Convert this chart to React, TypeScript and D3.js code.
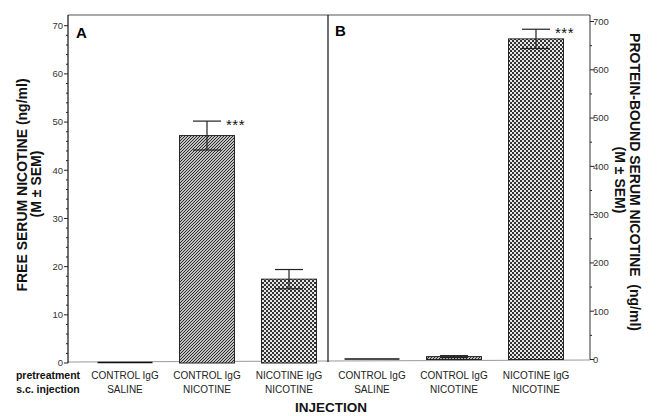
import React from "react";
import * as d3 from "d3";

// groups on the x axis (pretreatment / s.c. injection)
const pretreatment = ["CONTROL IgG", "CONTROL IgG", "NICOTINE IgG"];
const injection = ["SALINE", "NICOTINE", "NICOTINE"];
const groupIds = ["ctl-sal", "ctl-nic", "nic-nic"];
const fills = ["none", "url(#hatch)", "url(#checker)"];

// panel A: free serum nicotine (ng/ml)
const freeMean = [0.2, 47.2, 17.4];
const freeSem = [0, 3.0, 2.0];
// panel B: protein-bound serum nicotine (ng/ml)
const boundMean = [1, 6, 664];
const boundSem = [0, 2, 20];
const stars = [false, true, false];
const starsB = [false, false, true];

const leftTicks = [0, 10, 20, 30, 40, 50, 60, 70];
const rightTicks = [0, 100, 200, 300, 400, 500, 600, 700];

const font = "Liberation Sans, Arial, sans-serif";

export default function App() {
  const yA = d3.scaleLinear().domain([0, 70]).range([363, 25.7]);
  const yB = d3.scaleLinear().domain([0, 700]).range([359.5, 21.5]);
  const xA = d3.scaleBand().domain(groupIds).range([84, 330]).paddingInner(0.33).paddingOuter(0.165);
  const xB = d3.scaleBand().domain(groupIds).range([331, 577]).paddingInner(0.33).paddingOuter(0.165);

  const leftX = 68;
  const rightX = 590;
  const divX = 328;
  const top = 15;

  const panel = (x: d3.ScaleBand<string>, y: d3.ScaleLinear<number, number>, mean: number[], sem: number[], st: boolean[]) =>
    groupIds.map((id, i) => {
      const x0 = x(id)!;
      const w = x.bandwidth();
      const cx = x0 + w / 2;
      const y0 = y(0);
      const yv = y(mean[i]);
      const thin = y0 - yv < 2;
      return (
        <g key={id}>
          {thin ? (
            <line x1={x0} x2={x0 + w} y1={y0 - 0.5} y2={y0 - 0.5} stroke="#111" strokeWidth={1.5} />
          ) : (
            <rect x={x0} y={yv} width={w} height={y0 - yv} fill={fills[i]} stroke="#222" strokeWidth={1} />
          )}
          {sem[i] > 0 && (
            <g stroke="#222" strokeWidth={1.2}>
              <line x1={cx} x2={cx} y1={y(mean[i] - sem[i])} y2={y(mean[i] + sem[i])} />
              <line x1={cx - 14} x2={cx + 14} y1={y(mean[i] + sem[i])} y2={y(mean[i] + sem[i])} />
              <line x1={cx - 14} x2={cx + 14} y1={y(mean[i] - sem[i])} y2={y(mean[i] - sem[i])} />
            </g>
          )}
          {st[i] && (
            <text x={cx + 19} y={y(mean[i] + sem[i]) + 9} fontSize={15} letterSpacing={0.5} fill="#111" fontFamily={font}>
              ***
            </text>
          )}
        </g>
      );
    });

  return (
    <svg width={660} height={416} style={{ position: "absolute", left: 0, top: 0, background: "#fff" }}>
      <defs>
        <pattern id="hatch" patternUnits="userSpaceOnUse" width={3} height={3}>
          <rect width={3} height={3} fill="#fff" />
          <path d="M-1,1 L1,-1 M0,3 L3,0 M2,4 L4,2" stroke="#222" strokeWidth={1.1} />
        </pattern>
        <pattern id="checker" patternUnits="userSpaceOnUse" width={4} height={4}>
          <rect width={4} height={4} fill="#e8e8e8" />
          <rect width={2} height={2} fill="#333" />
          <rect x={2} y={2} width={2} height={2} fill="#333" />
        </pattern>
      </defs>

      {/* frame */}
      <line x1={leftX} x2={rightX} y1={top} y2={top} stroke="#555" strokeWidth={1} />
      <line x1={leftX} x2={rightX} y1={362} y2={360} stroke="#999" strokeWidth={1} />
      <line x1={leftX} x2={leftX} y1={top} y2={yA(0)} stroke="#111" strokeWidth={1.2} />
      <line x1={divX} x2={divX} y1={top} y2={362} stroke="#111" strokeWidth={1.2} />
      <line x1={rightX} x2={rightX} y1={top} y2={yB(0)} stroke="#333" strokeWidth={1} />

      {/* left axis */}
      {d3.range(0, 71, 2).map((v) => (
        <line key={"ml" + v} x1={leftX} x2={leftX - (v % 10 === 0 ? 4 : 2)} y1={yA(v)} y2={yA(v)} stroke="#222" />
      ))}
      {leftTicks.map((v) => (
        <text key={"tl" + v} x={leftX - 5} y={yA(v)} dy="0.35em" textAnchor="end" fontSize={9.5} fill="#333" fontFamily={font}>
          {v}
        </text>
      ))}

      {/* right axis */}
      {d3.range(0, 701, 50).map((v) => (
        <line key={"mr" + v} x1={rightX} x2={rightX + (v % 100 === 0 ? 4 : 2)} y1={yB(v)} y2={yB(v)} stroke="#222" />
      ))}
      {rightTicks.map((v) => (
        <text key={"tr" + v} x={rightX + 3} y={yB(v)} dy="0.35em" textAnchor="start" fontSize={9.5} fill="#333" fontFamily={font}>
          {v}
        </text>
      ))}

      {/* bars */}
      {panel(xA, yA, freeMean, freeSem, stars)}
      {panel(xB, yB, boundMean, boundSem, starsB)}

      {/* panel letters */}
      <text x={76} y={38} fontSize={15} fontWeight="bold" fontFamily={font}>A</text>
      <text x={335} y={36} fontSize={15} fontWeight="bold" fontFamily={font}>B</text>

      {/* category labels */}
      {[xA, xB].map((x, k) =>
        groupIds.map((id, i) => (
          <text key={k + id} x={x(id)! + x.bandwidth() / 2} textAnchor="middle" fontSize={10} fill="#222" fontFamily={font}>
            <tspan x={x(id)! + x.bandwidth() / 2} y={379}>{pretreatment[i]}</tspan>
            <tspan x={x(id)! + x.bandwidth() / 2} y={393}>{injection[i]}</tspan>
          </text>
        ))
      )}
      <text x={48} y={379} textAnchor="middle" fontSize={10.5} fontWeight="bold" fill="#111" fontFamily={font}>pretreatment</text>
      <text x={48} y={393} textAnchor="middle" fontSize={10.5} fontWeight="bold" fill="#111" fontFamily={font}>s.c. injection</text>

      <text x={331} y={412} textAnchor="middle" fontSize={13.5} fontWeight="bold" fill="#111" fontFamily={font}>INJECTION</text>

      {/* axis titles */}
      <text transform="translate(27,185) rotate(-90)" textAnchor="middle" fontSize={14} fontWeight="bold" fill="#111" fontFamily={font}>
        FREE SERUM NICOTINE (ng/ml)
      </text>
      <text transform="translate(41,184) rotate(-90)" textAnchor="middle" fontSize={14} fontWeight="bold" fill="#111" fontFamily={font}>
        (M ± SEM)
      </text>
      <text transform="translate(630,182) rotate(90)" textAnchor="middle" fontSize={14} fontWeight="bold" fill="#111" fontFamily={font} style={{ whiteSpace: "pre" }}>
        {"PROTEIN-BOUND SERUM NICOTINE  (ng/ml)"}
      </text>
      <text transform="translate(615,180) rotate(90)" textAnchor="middle" fontSize={14} fontWeight="bold" fill="#111" fontFamily={font}>
        (M ± SEM)
      </text>
    </svg>
  );
}
